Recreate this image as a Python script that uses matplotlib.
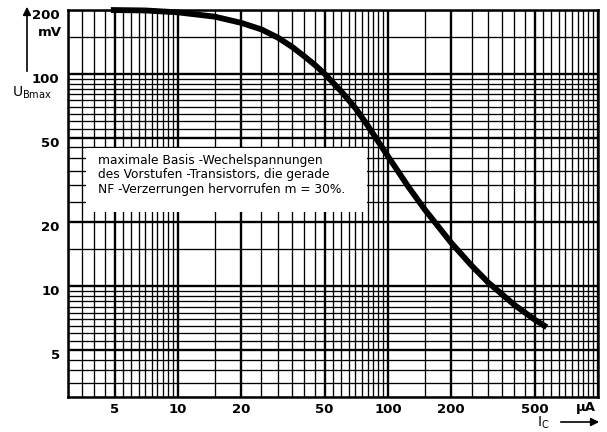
import numpy as np
import matplotlib
matplotlib.use('Agg')
import matplotlib.pyplot as plt
from matplotlib.patches import Rectangle
import matplotlib.transforms as mtransforms

# curve (Ic in uA, UBmax in mV)
ic = [4.8, 7, 10, 15, 20, 25, 30, 35, 40, 45, 50, 60, 70, 80, 90, 100,
      125, 150, 200, 250, 300, 400, 500, 570]
ub = [200, 199, 195, 186, 174, 162, 148, 134, 121, 110, 100, 82.6, 69, 57.2, 47.9, 40.9,
      29.4, 22.9, 16.0, 12.5, 10.4, 8.15, 6.94, 6.4]

x_ticks = [5, 10, 20, 50, 100, 200, 500]
y_ticks = [5, 10, 20, 50, 100, 200]

box_text = ("maximale Basis -Wechelspannungen\n"
            "des Vorstufen -Transistors, die gerade\n"
            "NF -Verzerrungen hervorrufen m = 30%.")

W, H = 607, 432
fig = plt.figure(figsize=(W / 100, H / 100), dpi=100)
ax = fig.add_axes([68 / W, 1 - 397 / H, 530 / W, 387 / H])
ax.set_xscale('log')
ax.set_yscale('log')
ax.set_xlim(3, 1000)
ax.set_ylim(3, 200)


# log paper grid: linear steps inside each decade
def paper_lines(lo, hi):
    out = []
    for b in [1, 10, 100]:
        for v in np.arange(b, 10 * b + 1e-9, 0.5 * b):
            if lo <= v <= hi:
                out.append(round(v, 3))
    return sorted(set(out))


def is_major(v):
    m = v / 10 ** np.floor(np.log10(v) + 1e-9)
    return any(abs(m - k) < 1e-6 for k in (1, 2, 5))


for v in paper_lines(3, 1000):
    ax.axvline(v, color='black', lw=1.7 if is_major(v) else 0.95, zorder=1)
for v in paper_lines(3, 200):
    ax.axhline(v, color='black', lw=1.7 if is_major(v) else 0.95, zorder=1)

# white field for the legend text
ax.add_patch(Rectangle((0.034, 0.478), 0.53, 0.166, transform=ax.transAxes,
                       facecolor='white', edgecolor='none', zorder=2))
ax.text(0.057, 0.628, box_text, transform=ax.transAxes, fontsize=8.8,
        va='top', ha='left', linespacing=1.15, zorder=3)

ax.plot(ic, ub, color='black', lw=4.2, solid_capstyle='butt', clip_on=False, zorder=4)

for s in ax.spines.values():
    s.set_linewidth(1.8)
ax.minorticks_off()
ax.set_xticks(x_ticks, [str(t) for t in x_ticks])
ax.set_yticks(y_ticks, [str(t) for t in y_ticks])
ax.tick_params(length=0, labelsize=9.5, pad=4)
ax.tick_params(axis='y', pad=6)
off = mtransforms.ScaledTranslation(0, -3 / 72, fig.dpi_scale_trans)
for lab in ax.get_yticklabels():
    lab.set_transform(lab.get_transform() + off)
    lab.set_fontweight('bold')
for lab in ax.get_xticklabels():
    lab.set_fontweight('bold')

# units and axis names
fig.text(62 / W, 1 - 33 / H, 'mV', ha='right', va='center', fontsize=9.5, fontweight='bold')
fig.text(586 / W, 1 - 407 / H, 'µA', ha='center', va='center', fontsize=9.5, fontweight='bold')
fig.text(12 / W, 1 - 93 / H, r'U$_{\mathregular{Bmax}}$', ha='left', va='center', fontsize=10)
fig.text(543 / W, 1 - 423 / H, r'I$_{\mathregular{C}}$', ha='center', va='center', fontsize=10)
fig.add_artist(plt.Annotation('', xy=(27 / W, 1 - 4 / H), xytext=(27 / W, 1 - 74 / H),
                              xycoords='figure fraction',
                              arrowprops=dict(arrowstyle='-|>', color='black', lw=1.2,
                                              mutation_scale=12)))
fig.add_artist(plt.Annotation('', xy=(602 / W, 1 - 422 / H), xytext=(558 / W, 1 - 422 / H),
                              xycoords='figure fraction',
                              arrowprops=dict(arrowstyle='-|>', color='black', lw=1.2,
                                              mutation_scale=12)))

fig.savefig('out.png', dpi=100)
